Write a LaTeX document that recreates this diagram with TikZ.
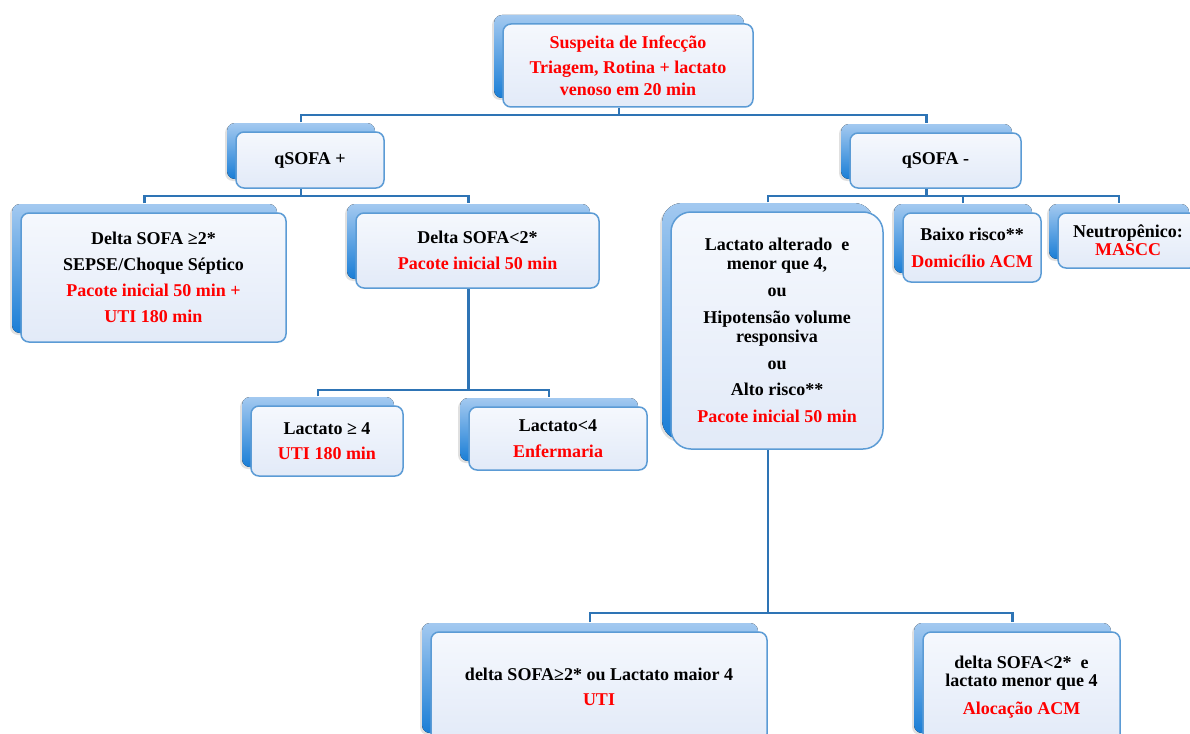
\documentclass[tikz,border=0pt]{standalone}
\usepackage{fontspec}
\setmainfont{Liberation Serif}
\usetikzlibrary{shadows,backgrounds}

\definecolor{linhaazul}{HTML}{2E74B5}
\definecolor{bordaazul}{HTML}{5B9BD5}
\definecolor{fundoclaro}{HTML}{A3C9F0}
\definecolor{fundoescuro}{HTML}{1A7ED6}
\definecolor{caixatopo}{HTML}{F5F8FD}
\definecolor{caixabase}{HTML}{E2EAF8}
\definecolor{vermelho}{HTML}{FF0000}

\newcommand{\verm}[1]{\textcolor{vermelho}{#1}}

\tikzset{
  caixa/.style={draw=bordaazul, line width=1.5pt, rounded corners=8pt,
    top color=caixatopo, bottom color=caixabase,
    drop shadow={shadow xshift=-11pt, shadow yshift=7pt, opacity=0.2, fill=black!60, draw=none},
    copy shadow={shadow xshift=-9pt, shadow yshift=9pt, draw=none,
      top color=fundoclaro, bottom color=fundoescuro},
    align=center, inner sep=0pt, font=\bfseries\fontsize{18}{22}\selectfont},
  linha/.style={draw=linhaazul, line width=2.4pt},
}

\begin{document}
\begin{tikzpicture}[x=1pt,y=-1pt]
                \useasboundingbox (0,0) rectangle (1190,733);
                %% caixas
                \node[caixa, minimum width=250pt, minimum height=83pt] (susp) at (628,65.5)
                    {\verm{Suspeita de Infecção}\\[3pt] \verm{Triagem, Rotina + lactato}\\ \verm{venoso em 20 min}};
                \node[caixa, minimum width=148pt, minimum height=56pt] (qpos) at (310,160) {qSOFA +};
                \node[caixa, minimum width=171pt, minimum height=55pt] (qneg) at (935.5,160.5) {qSOFA -};
                \node[caixa, minimum width=265pt, minimum height=129pt, font=\bfseries\fontsize{18}{26}\selectfont] (dmaior) at (153.5,277.5)
                    {Delta SOFA ≥2*\\ SEPSE/Choque Séptico\\ \verm{Pacote inicial 50 min +}\\ \verm{UTI 180 min}};
                \node[caixa, minimum width=243pt, minimum height=75pt, font=\bfseries\fontsize{18}{26}\selectfont] (dmenor) at (477.5,250.5)
                    {Delta SOFA<2*\\ \verm{Pacote inicial 50 min}};
                \node[caixa, minimum width=212pt, minimum height=237pt, rounded corners=20pt, font=\bfseries\fontsize{18}{19}\selectfont] (lalt) at (777,330.5)
                    {Lactato alterado~ e\\ menor que 4,\\[8pt] ou\\[8pt] Hipotensão volume\\ responsiva\\[8pt] ou\\[7pt] Alto risco**\\[8pt] \verm{Pacote inicial 50 min}};
                \node[caixa, minimum width=138pt, minimum height=69pt, font=\bfseries\fontsize{18}{27}\selectfont] (baixo) at (972,247.5)
                    {Baixo risco**\\ \verm{Domicílio ACM}};
                \node[caixa, minimum width=140pt, minimum height=55pt, font=\bfseries\fontsize{18}{18}\selectfont] (neutro) at (1128,240.5)
                    {Neutropênico:\\ \verm{MASCC}};
                \node[caixa, minimum width=152pt, minimum height=70pt, font=\bfseries\fontsize{18}{25}\selectfont] (lmaior) at (327,441)
                    {Lactato ≥ 4\\ \verm{UTI 180 min}};
                \node[caixa, minimum width=178pt, minimum height=63pt, font=\bfseries\fontsize{18}{26}\selectfont] (lmenor) at (558,438.5)
                    {Lactato<4\\ \verm{Enfermaria}};
                \node[caixa, minimum width=336pt, minimum height=110pt, font=\bfseries\fontsize{18}{25}\selectfont] (uti) at (599,687)
                    {delta SOFA≥2* ou Lactato maior 4\\ \verm{UTI}};
                \node[caixa, minimum width=197pt, minimum height=110pt, font=\bfseries\fontsize{18}{18}\selectfont] (aloc) at (1021.5,687)
                    {delta SOFA<2*~ e\\ lactato menor que 4\\[10pt] \verm{Alocação ACM}};
                %% ligacoes
                \begin{scope}[on background layer]
                    \fill[white] (0,0) rectangle (1190,733);
                    \coordinate (b0) at (619,115);
                    \coordinate (b1) at (301,196);
                    \coordinate (b2) at (468.5,390);
                    \coordinate (b3) at (926.5,196);
                    \coordinate (b4) at (768,613);
                    \draw[linha] ([xshift=-9pt]susp.south) -- (b0);
                    \draw[linha] ([xshift=-9pt,yshift=9pt]qpos.north) |- (b0) -| ([xshift=-9pt,yshift=9pt]qneg.north);
                    \draw[linha] ([xshift=-9pt]qpos.south) -- (b1);
                    \draw[linha] ([xshift=-9pt,yshift=9pt]dmaior.north) |- (b1) -| ([xshift=-9pt,yshift=9pt]dmenor.north);
                    \draw[linha] ([xshift=-9pt]dmenor.south) -- (b2);
                    \draw[linha] ([xshift=-9pt,yshift=9pt]lmaior.north) |- (b2) -| ([xshift=-9pt,yshift=9pt]lmenor.north);
                    \draw[linha] ([xshift=-9pt]qneg.south) -- (b3);
                    \draw[linha] ([xshift=-9pt,yshift=9pt]lalt.north) |- (b3) -| ([xshift=-9pt,yshift=9pt]neutro.north);
                    \draw[linha] ([xshift=-9pt,yshift=9pt]baixo.north) |- (b3);
                    \draw[linha] ([xshift=-9pt]lalt.south) -- (b4);
                    \draw[linha] ([xshift=-9pt,yshift=9pt]uti.north) |- (b4) -| ([xshift=-9pt,yshift=9pt]aloc.north);
                \end{scope}
\end{tikzpicture}
\end{document}
